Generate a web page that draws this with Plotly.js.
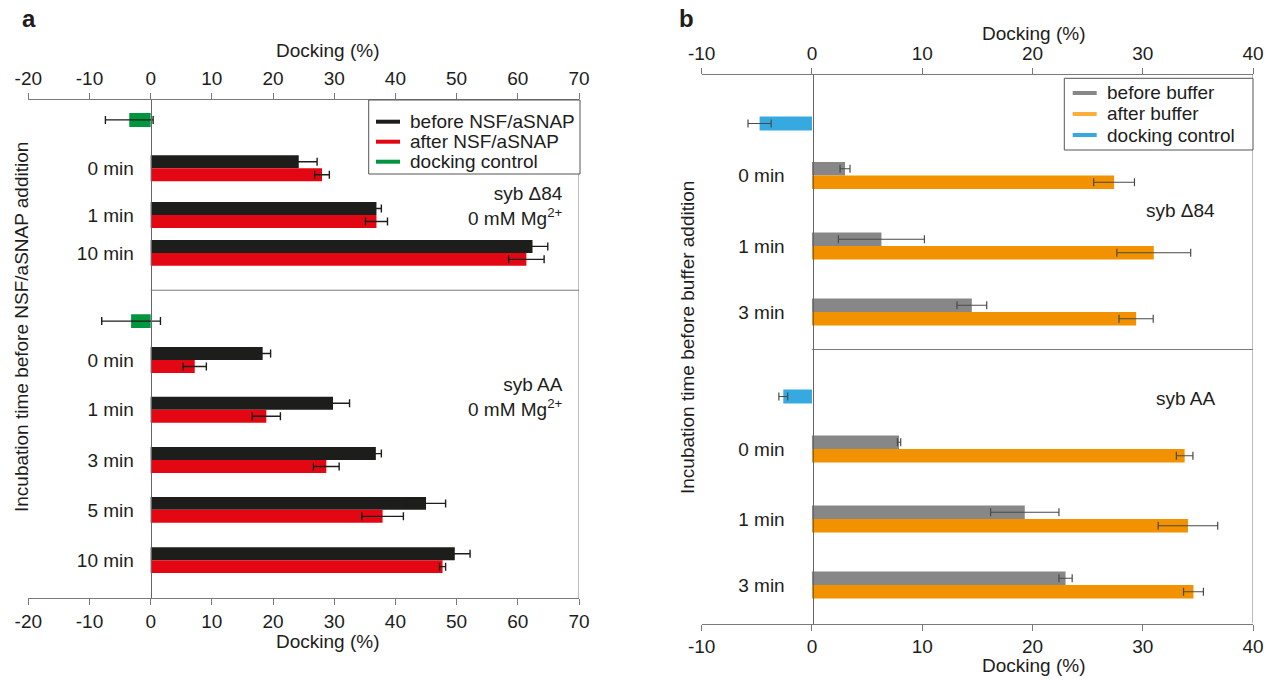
<!DOCTYPE html>
<html>
<head>
<meta charset="utf-8">
<script src="https://cdn.plot.ly/plotly-3.0.1.min.js"></script>
<style>html,body{margin:0;padding:0;background:#fff;}#chart{width:1273px;height:681px;}</style>
</head>
<body>
<div id="chart"></div>
<script>
// ---------- DATA ----------
// Panel a, syb Δ84
const catA1 = ['0 min', '1 min', '10 min'];
const beforeA1 = [24.2, 36.9, 62.4];
const beforeA1Err = [3.0, 0.8, 2.5];
const afterA1 = [28.0, 36.9, 61.4];
const afterA1Err = [1.2, 1.8, 2.9];
const ctrlA1 = [-3.5];
const ctrlA1Err = [3.9];
// Panel a, syb AA
const catA2 = ['0 min', '1 min', '3 min', '5 min', '10 min'];
const beforeA2 = [18.3, 29.8, 36.8, 45.0, 49.7];
const beforeA2Err = [1.3, 2.7, 0.9, 3.2, 2.5];
const afterA2 = [7.2, 18.9, 28.7, 37.9, 47.7];
const afterA2Err = [1.9, 2.3, 2.1, 3.4, 0.5];
const ctrlA2 = [-3.2];
const ctrlA2Err = [4.8];
// Panel b, syb Δ84
const catB1 = ['0 min', '1 min', '3 min'];
const beforeB1 = [3.0, 6.3, 14.5];
const beforeB1Err = [0.45, 3.9, 1.35];
const afterB1 = [27.4, 31.0, 29.4];
const afterB1Err = [1.85, 3.35, 1.55];
const ctrlB1 = [-4.75];
const ctrlB1Err = [1.05];
// Panel b, syb AA
const catB2 = ['0 min', '1 min', '3 min'];
const beforeB2 = [7.9, 19.3, 23.0];
const beforeB2Err = [0.15, 3.1, 0.6];
const afterB2 = [33.8, 34.1, 34.6];
const afterB2Err = [0.75, 2.7, 0.9];
const ctrlB2 = [-2.6];
const ctrlB2Err = [0.4];
// Axis ticks and legend labels
const ticksA = [-20, -10, 0, 10, 20, 30, 40, 50, 60, 70];
const ticksB = [-10, 0, 10, 20, 30, 40];
const legendA = ['before NSF/aSNAP', 'after NSF/aSNAP', 'docking control'];
const legendB = ['before buffer', 'after buffer', 'docking control'];

// ---------- LAYOUT HELPERS (row slots on the value-free y axis) ----------
const rowsA1 = [1.37, 2.31, 3.07], slotCtrlA1 = [0.40];
const rowsA2 = [5.22, 6.22, 7.23, 8.23, 9.24], slotCtrlA2 = [4.44];
const dividerA = 3.82;
const rowsB1 = [2.01, 3.42, 4.74], slotCtrlB1 = [0.97];
const rowsB2 = [7.48, 8.88, 10.2], slotCtrlB2 = [6.43];
const dividerB = 5.49;

const W = 1273, H = 681;
const px = v => v / W;
const py = v => 1 - v / H;
const FONT = 'Liberation Sans, Arial, Helvetica, sans-serif';
const TXT = '#1d1d1b';
const FS = 19;

const C = {
  black: '#1d1d1b', red: '#e30613', green: '#009640',
  gray: '#878787', orange: '#f39200', orangeLeg: '#fbb03b', blue: '#36a9e1'
};
const BW = 0.26;

function bar(x, err, y, color, xa, ya, offset, width, errColor, errThick) {
  return {
    type: 'bar', orientation: 'h', x: x, y: y, xaxis: xa, yaxis: ya,
    width: width, offset: offset,
    marker: {color: color, line: {width: 0}},
    error_x: {type: 'data', array: err, visible: true, color: errColor, thickness: errThick, width: 4},
    showlegend: false, hoverinfo: 'x'
  };
}
function dummy(xa, ya) {
  return {type: 'scatter', mode: 'markers', x: [0], y: [-100], xaxis: xa, yaxis: ya,
    marker: {opacity: 0}, showlegend: false, hoverinfo: 'skip'};
}

const eA = '#1d1d1b', eB = '#4a4a4a';
const traces = [
  bar(beforeA1, beforeA1Err, rowsA1, C.black, 'x', 'y', -BW, BW, eA, 1.4),
  bar(afterA1, afterA1Err, rowsA1, C.red, 'x', 'y', 0, BW, eA, 1.4),
  bar(ctrlA1, ctrlA1Err, slotCtrlA1, C.green, 'x', 'y', -0.14, 0.28, eA, 1.4),
  bar(beforeA2, beforeA2Err, rowsA2, C.black, 'x', 'y', -BW, BW, eA, 1.4),
  bar(afterA2, afterA2Err, rowsA2, C.red, 'x', 'y', 0, BW, eA, 1.4),
  bar(ctrlA2, ctrlA2Err, slotCtrlA2, C.green, 'x', 'y', -0.14, 0.28, eA, 1.4),
  bar(beforeB1, beforeB1Err, rowsB1, C.gray, 'x3', 'y2', -0.27, 0.27, eB, 1.2),
  bar(afterB1, afterB1Err, rowsB1, C.orange, 'x3', 'y2', 0, 0.27, eB, 1.2),
  bar(ctrlB1, ctrlB1Err, slotCtrlB1, C.blue, 'x3', 'y2', -0.14, 0.28, eB, 1.2),
  bar(beforeB2, beforeB2Err, rowsB2, C.gray, 'x3', 'y2', -0.27, 0.27, eB, 1.2),
  bar(afterB2, afterB2Err, rowsB2, C.orange, 'x3', 'y2', 0, 0.27, eB, 1.2),
  bar(ctrlB2, ctrlB2Err, slotCtrlB2, C.blue, 'x3', 'y2', -0.14, 0.28, eB, 1.2),
  dummy('x2', 'y'), dummy('x4', 'y2')
];

const axCol = '#7a7a7a';
function xAx(dom, range, ticks, extra) {
  return Object.assign({
    domain: dom, range: range, tickmode: 'array', tickvals: ticks, ticktext: ticks.map(v => String(v)),
    showline: true, linecolor: axCol, linewidth: 1,
    ticks: 'outside', ticklen: 6, tickcolor: axCol, tickwidth: 1, showgrid: false, zeroline: false,
    tickfont: {size: FS, color: TXT, family: FONT}, fixedrange: true
  }, extra);
}
function yAx(dom, range, pos, vals, text, standoff) {
  return {
    domain: dom, range: range, anchor: 'free', position: pos, showline: true, linecolor: '#666', linewidth: 1,
    ticks: '', showgrid: false, zeroline: false, tickmode: 'array', tickvals: vals, ticktext: text,
    ticklabelstandoff: standoff, tickfont: {size: FS, color: TXT, family: FONT}, fixedrange: true
  };
}

const domAx = [px(28.3), px(579)], domAy = [py(598), py(100)];
const domBx = [px(701.7), px(1253)], domBy = [py(623.5), py(75)];

// manual legends (short thick line samples + text)
const shapes = [
  {type: 'line', xref: 'x', yref: 'y', x0: 0, x1: 70, y0: dividerA, y1: dividerA, line: {color: axCol, width: 1}},
  {type: 'line', xref: 'x', yref: 'y', x0: 70, x1: 70, y0: 0, y1: 10, line: {color: axCol, width: 1}},
  {type: 'line', xref: 'x3', yref: 'y2', x0: 0, x1: 40, y0: dividerB, y1: dividerB, line: {color: axCol, width: 1}},
  {type: 'line', xref: 'x3', yref: 'y2', x0: 40, x1: 40, y0: 0, y1: 10.97, line: {color: axCol, width: 1}},
  {type: 'rect', xref: 'paper', yref: 'paper', x0: px(368.7), x1: px(580), y0: py(174), y1: py(100), line: {color: '#555', width: 1}, fillcolor: '#fff'},
  {type: 'rect', xref: 'paper', yref: 'paper', x0: px(1064.3), x1: px(1253), y0: py(150), y1: py(78.3), line: {color: '#555', width: 1}, fillcolor: '#fff'}
];
const annotations = [];
const legColA = [C.black, C.red, C.green], rowYA = [121.7, 141.7, 161.7];
const legColB = [C.gray, C.orangeLeg, C.blue], rowYB = [93, 114, 135];
legendA.forEach((t, i) => {
  shapes.push({type: 'line', xref: 'paper', yref: 'paper', x0: px(376), x1: px(400), y0: py(rowYA[i]), y1: py(rowYA[i]), line: {color: legColA[i], width: 4}});
  annotations.push({text: t, x: px(408), y: py(rowYA[i]), xref: 'paper', yref: 'paper', xanchor: 'left', yanchor: 'middle', showarrow: false, font: {size: FS}});
});
legendB.forEach((t, i) => {
  shapes.push({type: 'line', xref: 'paper', yref: 'paper', x0: px(1072.7), x1: px(1096.7), y0: py(rowYB[i]), y1: py(rowYB[i]), line: {color: legColB[i], width: 4}});
  annotations.push({text: t, x: px(1105), y: py(rowYB[i]), xref: 'paper', yref: 'paper', xanchor: 'left', yanchor: 'middle', showarrow: false, font: {size: FS}});
});
function note(text, x, y, opts) {
  annotations.push(Object.assign({text: text, x: px(x), y: py(y), xref: 'paper', yref: 'paper',
    xanchor: 'center', yanchor: 'middle', showarrow: false, font: {size: FS}}, opts || {}));
}
note('<b>a</b>', 20, 19, {xanchor: 'left', font: {size: 24}});
note('<b>b</b>', 677, 19, {xanchor: 'left', font: {size: 24}});
note('Docking (%)', 328, 50);
note('Docking (%)', 328, 641);
note('Docking (%)', 1033, 33);
note('Docking (%)', 1033, 665);
note('Incubation time before NSF/aSNAP addition', 22, 327, {textangle: -90});
note('Incubation time before buffer addition', 687, 338, {textangle: -90});
note('syb Δ84<br>0 mM Mg<sup>2+</sup>', 565, 206, {xanchor: 'right', align: 'right'});
note('syb AA<br>0 mM Mg<sup>2+</sup>', 565, 397, {xanchor: 'right', align: 'right'});
note('syb Δ84', 1180, 211);
note('syb AA', 1185, 398);

const layout = {
  width: W, height: H, margin: {l: 0, r: 0, t: 0, b: 0},
  paper_bgcolor: '#fff', plot_bgcolor: 'rgba(0,0,0,0)',
  font: {family: FONT, color: TXT, size: FS},
  barmode: 'overlay', showlegend: false,
  xaxis: xAx(domAx, [-20, 70], ticksA, {anchor: 'y', side: 'bottom'}),
  xaxis2: xAx(domAx, [-20, 70], ticksA, {anchor: 'y', side: 'top', overlaying: 'x'}),
  yaxis: yAx(domAy, [10, 0], px(150.7), rowsA1.concat(rowsA2), catA1.concat(catA2), 13),
  xaxis3: xAx(domBx, [-10, 40], ticksB, {anchor: 'y2', side: 'bottom'}),
  xaxis4: xAx(domBx, [-10, 40], ticksB, {anchor: 'y2', side: 'top', overlaying: 'x3'}),
  yaxis2: yAx(domBy, [10.97, 0], px(812.5), rowsB1.concat(rowsB2), catB1.concat(catB2), 24),
  shapes: shapes,
  annotations: annotations
};

Plotly.newPlot('chart', traces, layout, {staticPlot: true, displayModeBar: false});
</script>
</body>
</html>
